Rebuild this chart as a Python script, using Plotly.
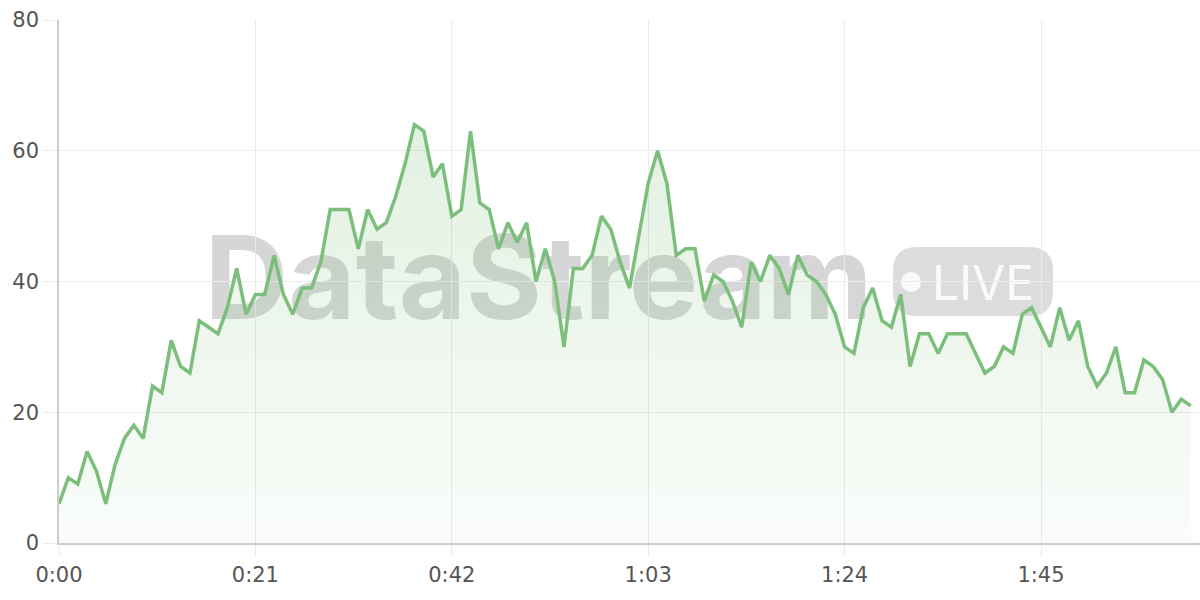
import plotly.graph_objects as go

# ---- data ----
seconds = list(range(0, 122))
values = [6, 10, 9, 14, 11, 6, 12, 16, 18, 16,
          24, 23, 31, 27, 26, 34, 33, 32, 36, 42,
          35, 38, 38, 44, 38, 35, 39, 39, 43, 51,
          51, 51, 45, 51, 48, 49, 53, 58, 64, 63,
          56, 58, 50, 51, 63, 52, 51, 45, 49, 46,
          49, 40, 45, 40, 30, 42, 42, 44, 50, 48,
          43, 39, 47, 55, 60, 55, 44, 45, 45, 37,
          41, 40, 37, 33, 43, 40, 44, 42, 38, 44,
          41, 40, 38, 35, 30, 29, 36, 39, 34, 33,
          38, 27, 32, 32, 29, 32, 32, 32, 29, 26,
          27, 30, 29, 35, 36, 33, 30, 36, 31, 34,
          27, 24, 26, 30, 23, 23, 28, 27, 25, 20,
          22, 21]
tick_vals = [0, 21, 42, 63, 84, 105]
tick_text = ["0:00", "0:21", "0:42", "1:03", "1:24", "1:45"]
y_ticks = [0, 20, 40, 60, 80]

W, H = 1200, 600
L, R, T, B = 59, 0, 20, 57
PW, PH = W - L - R, H - T - B

def px(x):
    return (x - L) / PW

def py(y):
    return (H - B - y) / PH

fig = go.Figure()
fig.add_trace(go.Scatter(
    x=seconds, y=values, mode="lines",
    line=dict(color="#7cbf7c", width=3.5),
    fill="tozeroy",
    fillgradient=dict(type="vertical", start=0, stop=70,
                      colorscale=[[0, "rgba(124,191,124,0.04)"],
                                  [1, "rgba(124,191,124,0.24)"]]),
    hoverinfo="skip",
))

shapes = []
# watermark text
shapes.append(dict(type="rect", xref="paper", yref="paper", layer="between",
                   x0=px(205), x1=px(872), y0=py(330), y1=py(215),
                   line=dict(width=0), fillcolor="rgba(0,0,0,0)",
                   label=dict(text="DataStream", textposition="middle center",
                              font=dict(family="Inter", size=116, weight="bold",
                                        color="rgba(120,120,120,0.30)"))))
# badge rounded rect
bx0, bx1, by0, by1, r = 893, 1053, 247, 316, 24
def P(x, y):
    return f"{px(x):.5f},{py(y):.5f}"
path = (f"M {P(bx0+r, by0)} L {P(bx1-r, by0)} Q {P(bx1, by0)} {P(bx1, by0+r)} "
        f"L {P(bx1, by1-r)} Q {P(bx1, by1)} {P(bx1-r, by1)} "
        f"L {P(bx0+r, by1)} Q {P(bx0, by1)} {P(bx0, by1-r)} "
        f"L {P(bx0, by0+r)} Q {P(bx0, by0)} {P(bx0+r, by0)} Z")
shapes.append(dict(type="path", xref="paper", yref="paper", layer="between",
                   path=path, line=dict(width=0),
                   fillcolor="rgba(120,120,120,0.26)"))
# dot
cx, cy, cr = 911, 282, 10
shapes.append(dict(type="circle", xref="paper", yref="paper", layer="between",
                   x0=px(cx-cr), x1=px(cx+cr), y0=py(cy+cr), y1=py(cy-cr),
                   line=dict(width=0), fillcolor="rgba(255,255,255,0.85)"))
# LIVE text
shapes.append(dict(type="rect", xref="paper", yref="paper", layer="between",
                   x0=px(926), x1=px(1040), y0=py(310), y1=py(252),
                   line=dict(width=0), fillcolor="rgba(0,0,0,0)",
                   label=dict(text="LIVE", textposition="middle center",
                              font=dict(family="Inter", size=48,
                                        color="rgba(255,255,255,0.9)"))))

fig.update_layout(
    width=W, height=H,
    margin=dict(l=L, r=R, t=T, b=B, autoexpand=False),
    paper_bgcolor="white", plot_bgcolor="white",
    showlegend=False,
    shapes=shapes,
    font=dict(family="DejaVu Sans", size=21, color="#555555"),
    xaxis=dict(range=[0, 122], tickvals=tick_vals, ticktext=tick_text,
               showgrid=True, gridcolor="#ebebeb", gridwidth=1,
               ticks="outside", ticklen=12, tickcolor="#ebebeb",
               showline=True, linecolor="#cccccc", linewidth=1.5,
               zeroline=False, fixedrange=True, automargin=False,
               tickfont=dict(family="DejaVu Sans", size=21, color="#555555")),
    yaxis=dict(range=[0, 80], tickvals=y_ticks,
               showgrid=True, gridcolor="#ececec", gridwidth=1,
               ticks="outside", ticklen=14, tickcolor="#ececec",
               showline=True, linecolor="#cccccc", linewidth=1.5,
               zeroline=False, fixedrange=True, automargin=False,
               tickfont=dict(family="DejaVu Sans", size=21, color="#555555")),
)

fig.write_html("out.html", config={"displayModeBar": False},
               post_script="document.body.style.margin='0';document.body.style.overflow='hidden';")
